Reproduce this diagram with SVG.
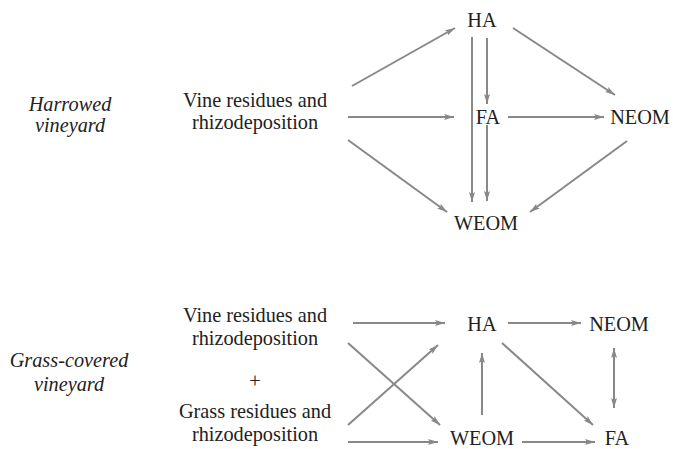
<svg xmlns="http://www.w3.org/2000/svg" width="673" height="449" viewBox="0 0 673 449">
<defs>
<marker id="ah" viewBox="0 0 10 6" refX="10" refY="3" markerWidth="10" markerHeight="6" markerUnits="userSpaceOnUse" orient="auto-start-reverse">
<path d="M0,0 L10,3 L0,6 L2,3 Z" fill="#888"/>
</marker>
<style>
text{font-family:'Liberation Serif','Times New Roman','DejaVu Serif',serif;font-size:20.3px;fill:#222;text-anchor:middle}
.i{font-style:italic}
.c line{stroke:#888;stroke-width:2;marker-end:url(#ah)}
</style>
</defs>
<rect width="673" height="449" fill="#fff"/>
<g id="label-harrowed"><text class="i" x="70" y="111">Harrowed</text><text class="i" x="70" y="132">vineyard</text></g>
<g id="label-grass"><text class="i" x="69" y="367">Grass-covered</text><text class="i" x="69" y="391">vineyard</text></g>
<g id="t-vine"><text x="255" y="107">Vine residues and</text><text x="255" y="129">rhizodeposition</text></g>
<g id="t-ha"><text x="482" y="27">HA</text></g>
<g id="t-fa"><text x="488" y="124">FA</text></g>
<g id="t-neom"><text x="640" y="124">NEOM</text></g>
<g id="t-weom"><text x="486" y="230">WEOM</text></g>
<g id="b-vine"><text x="255" y="322">Vine residues and</text><text x="255" y="345">rhizodeposition</text></g>
<g id="b-plus"><text x="255" y="388">+</text></g>
<g id="b-grass"><text x="255" y="418">Grass residues and</text><text x="255" y="441">rhizodeposition</text></g>
<g id="b-ha"><text x="482" y="331">HA</text></g>
<g id="b-neom"><text x="619" y="331">NEOM</text></g>
<g id="b-weom"><text x="482" y="445">WEOM</text></g>
<g id="b-fa"><text x="617" y="445">FA</text></g>
<g id="connectors" class="c">
<line x1="352" y1="86" x2="455" y2="28"/>
<line x1="348" y1="117" x2="454" y2="117"/>
<line x1="348" y1="140" x2="447" y2="212"/>
<line x1="472" y1="37" x2="472" y2="202"/>
<line x1="487" y1="38" x2="487" y2="104"/>
<line x1="487" y1="125" x2="487" y2="201"/>
<line x1="513" y1="28" x2="615" y2="95"/>
<line x1="508" y1="117" x2="604" y2="117"/>
<line x1="627" y1="141" x2="530" y2="212"/>
<line x1="353" y1="323" x2="445" y2="323"/>
<line x1="348" y1="343" x2="440" y2="425"/>
<line x1="348" y1="425" x2="438" y2="345"/>
<line x1="348" y1="442" x2="438" y2="442"/>
<line x1="482" y1="415" x2="482" y2="353"/>
<line x1="508" y1="323" x2="581" y2="323"/>
<line x1="502" y1="343" x2="593" y2="425"/>
<line x1="614" y1="348" x2="614" y2="408" style="marker-start:url(#ah)"/>
<line x1="522" y1="442" x2="595" y2="442"/>
</g>
</svg>
